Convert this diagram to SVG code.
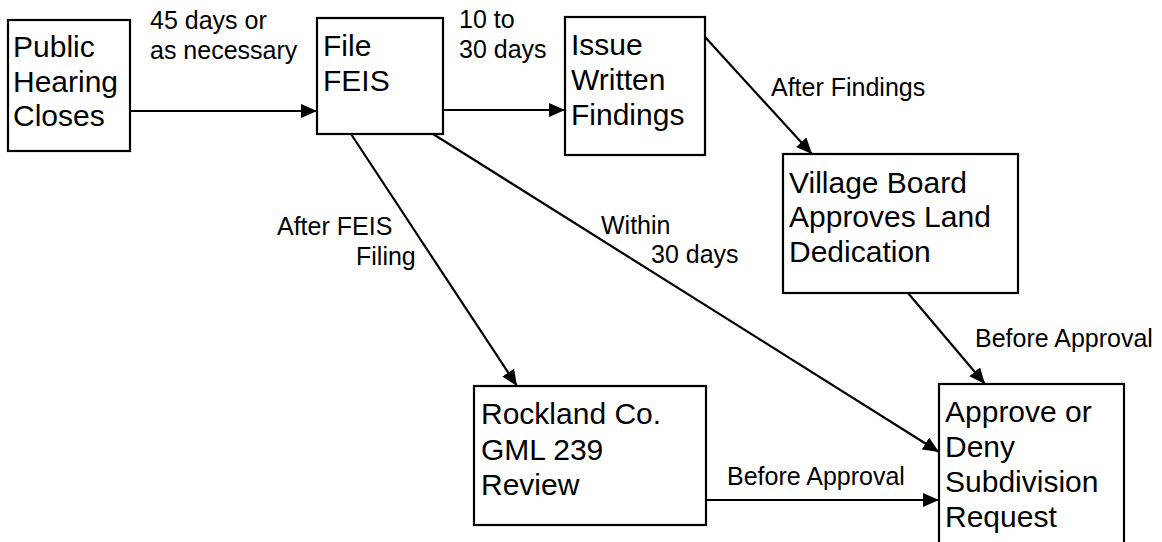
<svg xmlns="http://www.w3.org/2000/svg" width="1162" height="542" viewBox="0 0 1162 542">
<style>
.box{fill:#fff;stroke:#000;stroke-width:2.2}
.nt{font-family:"Liberation Sans",Arial,sans-serif;font-size:30px;fill:#000}
.lt{font-family:"Liberation Sans",Arial,sans-serif;font-size:25px;fill:#000}
.edge{fill:none;stroke:#000;stroke-width:2.2;marker-end:url(#arr)}
</style>
<defs>
<marker id="arr" markerUnits="userSpaceOnUse" markerWidth="17" markerHeight="14" refX="16" refY="7" orient="auto">
<path d="M0,0 L16,7 L0,14 z" fill="#000"/>
</marker>
</defs>
<rect width="1162" height="542" fill="#fff"/>
<g id="connectors">
<line class="edge" x1="130" y1="111" x2="317" y2="111"/>
<line class="edge" x1="443" y1="110" x2="565" y2="110"/>
<line class="edge" x1="705" y1="37" x2="812" y2="154"/>
<line class="edge" x1="351" y1="134" x2="517" y2="386"/>
<line class="edge" x1="433" y1="134" x2="939" y2="452"/>
<line class="edge" x1="908" y1="293" x2="985" y2="384"/>
<line class="edge" x1="706" y1="500" x2="939" y2="500"/>
<text class="lt" x="150" y="29">45 days or</text>
<text class="lt" x="150" y="59">as necessary</text>
<text class="lt" x="459" y="28">10 to</text>
<text class="lt" x="459" y="58">30 days</text>
<text class="lt" x="771" y="96">After Findings</text>
<text class="lt" x="277" y="235">After FEIS</text>
<text class="lt" x="356" y="265">Filing</text>
<text class="lt" x="601" y="234">Within</text>
<text class="lt" x="651" y="263">30 days</text>
<text class="lt" x="975" y="347">Before Approval</text>
<text class="lt" x="727" y="485">Before Approval</text>
</g>
<g id="public-hearing">
<rect class="box" x="8" y="20" width="122" height="131"/>
<text class="nt" x="13" y="57">Public</text>
<text class="nt" x="13" y="92">Hearing</text>
<text class="nt" x="13" y="126">Closes</text>
</g>
<g id="file-feis">
<rect class="box" x="317" y="18" width="126" height="116"/>
<text class="nt" x="323" y="56">File</text>
<text class="nt" x="323" y="91">FEIS</text>
</g>
<g id="issue-findings">
<rect class="box" x="565" y="17" width="140" height="138"/>
<text class="nt" x="571" y="55">Issue</text>
<text class="nt" x="571" y="90">Written</text>
<text class="nt" x="571" y="125">Findings</text>
</g>
<g id="village-board">
<rect class="box" x="783" y="154" width="235" height="139"/>
<text class="nt" x="789" y="193">Village Board</text>
<text class="nt" x="789" y="227">Approves Land</text>
<text class="nt" x="789" y="262">Dedication</text>
</g>
<g id="rockland-review">
<rect class="box" x="474" y="386" width="232" height="139"/>
<text class="nt" x="481" y="424">Rockland Co.</text>
<text class="nt" x="481" y="460">GML 239</text>
<text class="nt" x="481" y="495">Review</text>
</g>
<g id="approve-deny">
<rect class="box" x="939" y="384" width="185" height="170"/>
<text class="nt" x="945" y="422">Approve or</text>
<text class="nt" x="945" y="457">Deny</text>
<text class="nt" x="945" y="492">Subdivision</text>
<text class="nt" x="945" y="527">Request</text>
</g>
</svg>
